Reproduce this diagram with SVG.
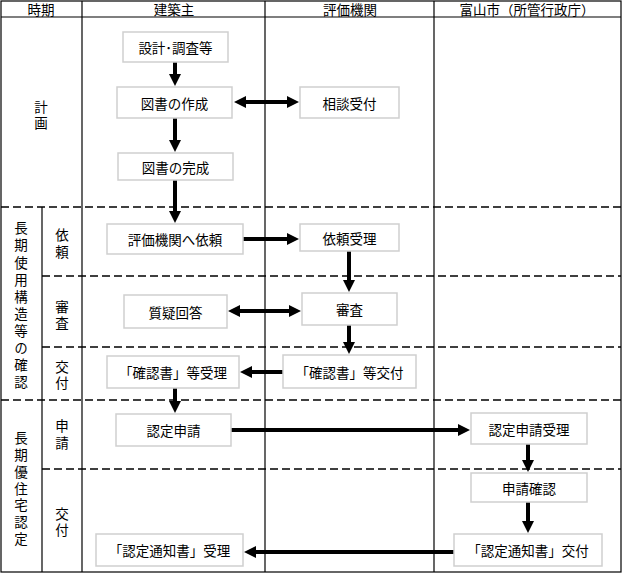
<svg xmlns="http://www.w3.org/2000/svg" width="623" height="574" viewBox="0 0 623 574">
<style>
  text { font-family: "Noto Sans CJK JP", "Liberation Sans", sans-serif; font-size: 13.5px; fill: #000; text-anchor: middle; dominant-baseline: central; }
  text.v { writing-mode: vertical-rl; text-orientation: upright; }
  .grid { stroke: #000; stroke-width: 1.2; fill: none; }
  .dash { stroke: #000; stroke-width: 1.5; stroke-dasharray: 8 4; fill: none; }
  .box rect { fill: #fff; stroke: #cfcfcf; stroke-width: 1.5; }
  .conn line { stroke: #000; stroke-width: 4; }
</style>
<defs>
  <marker id="ah" viewBox="0 0 12 12" refX="1" refY="6" markerUnits="userSpaceOnUse" markerWidth="12" markerHeight="12" orient="auto-start-reverse">
    <path d="M0,0 L12,6 L0,12 z" fill="#000"/>
  </marker>
</defs>
<rect width="623" height="574" fill="#fff"/>

<g id="table">
  <rect class="grid" x="1" y="1" width="620" height="571"/>
  <line class="grid" x1="1" y1="17" x2="621" y2="17"/>
  <line class="grid" x1="82" y1="1" x2="82" y2="572"/>
  <line class="grid" x1="265" y1="1" x2="265" y2="572"/>
  <line class="grid" x1="434" y1="1" x2="434" y2="572"/>
  <line class="grid" x1="42" y1="207" x2="42" y2="572"/>
  <line class="dash" x1="1" y1="207" x2="621" y2="207"/>
  <line class="dash" x1="42" y1="276" x2="621" y2="276"/>
  <line class="dash" x1="42" y1="347" x2="621" y2="347"/>
  <line class="dash" x1="1" y1="400" x2="621" y2="400"/>
  <line class="dash" x1="42" y1="469" x2="621" y2="469"/>
</g>

<g id="headers">
  <text x="41" y="9">時期</text>
  <text x="174" y="9">建築主</text>
  <text x="350" y="9">評価機関</text>
  <text x="527" y="9">富山市（所管行政庁）</text>
</g>

<g id="phases">
  <text class="v" x="41" y="116" letter-spacing="2.5">計画</text>
  <text class="v" x="21" y="307" letter-spacing="3.6">長期使用構造等の確認</text>
  <text class="v" x="62" y="245" letter-spacing="3.5">依頼</text>
  <text class="v" x="62" y="316" letter-spacing="2.5">審査</text>
  <text class="v" x="62" y="376" letter-spacing="2.5">交付</text>
  <text class="v" x="62" y="436" letter-spacing="3.5">申請</text>
  <text class="v" x="21" y="490" letter-spacing="3.2">長期優住宅認定</text>
  <text class="v" x="62" y="523" letter-spacing="2.5">交付</text>
</g>

<g id="connectors" class="conn">
  <line x1="175" y1="62" x2="175" y2="75" marker-end="url(#ah)"/>
  <line x1="245" y1="102" x2="288" y2="102" marker-start="url(#ah)" marker-end="url(#ah)"/>
  <line x1="175" y1="118" x2="175" y2="141" marker-end="url(#ah)"/>
  <line x1="175" y1="180" x2="175" y2="212" marker-end="url(#ah)"/>
  <line x1="243" y1="239" x2="288" y2="239" marker-end="url(#ah)"/>
  <line x1="349" y1="251" x2="349" y2="281" marker-end="url(#ah)"/>
  <line x1="239" y1="311" x2="290" y2="311" marker-start="url(#ah)" marker-end="url(#ah)"/>
  <line x1="349" y1="325" x2="349" y2="343" marker-end="url(#ah)"/>
  <line x1="283" y1="372" x2="251" y2="372" marker-end="url(#ah)"/>
  <line x1="175" y1="388" x2="175" y2="402" marker-end="url(#ah)"/>
  <line x1="231" y1="430" x2="459" y2="430" marker-end="url(#ah)"/>
  <line x1="528" y1="444" x2="528" y2="461" marker-end="url(#ah)"/>
  <line x1="528" y1="502" x2="528" y2="522" marker-end="url(#ah)"/>
  <line x1="454" y1="552" x2="255" y2="552" marker-end="url(#ah)"/>
</g>

<g id="n1" class="box"><rect x="123" y="32" width="105" height="30"/><text x="175.5" y="47">設計･調査等</text></g>
<g id="n2" class="box"><rect x="117" y="87" width="115" height="31"/><text x="174.5" y="102.5">図書の作成</text></g>
<g id="n3" class="box"><rect x="118" y="153" width="115" height="27"/><text x="175.5" y="166.5">図書の完成</text></g>
<g id="n4" class="box"><rect x="300" y="87" width="99" height="31"/><text x="349.5" y="102.5">相談受付</text></g>
<g id="n5" class="box"><rect x="107" y="224" width="136" height="30"/><text x="175" y="239">評価機関へ依頼</text></g>
<g id="n6" class="box"><rect x="300" y="224" width="99" height="27"/><text x="349.5" y="237.5">依頼受理</text></g>
<g id="n7" class="box"><rect x="124" y="295" width="103" height="33"/><text x="175.5" y="311.5">質疑回答</text></g>
<g id="n8" class="box"><rect x="302" y="293" width="95" height="32"/><text x="349.5" y="309">審査</text></g>
<g id="n9" class="box"><rect x="107" y="356" width="132" height="32"/><text x="173" y="372">「確認書」等受理</text></g>
<g id="n10" class="box"><rect x="283" y="355" width="133" height="33"/><text x="349.5" y="371.5">「確認書」等交付</text></g>
<g id="n11" class="box"><rect x="116" y="414" width="115" height="32"/><text x="173.5" y="430">認定申請</text></g>
<g id="n12" class="box"><rect x="471" y="413" width="116" height="31"/><text x="529" y="428.5">認定申請受理</text></g>
<g id="n13" class="box"><rect x="471" y="473" width="116" height="29"/><text x="529" y="487.5">申請確認</text></g>
<g id="n14" class="box"><rect x="454" y="534" width="148" height="32"/><text x="528" y="550">「認定通知書」交付</text></g>
<g id="n15" class="box"><rect x="96" y="534" width="147" height="32"/><text x="169.5" y="550">「認定通知書」受理</text></g>
</svg>
